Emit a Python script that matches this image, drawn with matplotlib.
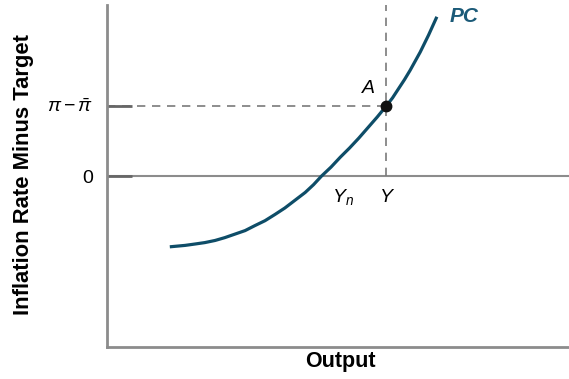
import numpy as np
import matplotlib
matplotlib.use("Agg")
import matplotlib.pyplot as plt

plt.rcParams['font.family'] = ['Liberation Sans', 'DejaVu Sans']
plt.rcParams['mathtext.fontset'] = 'custom'
plt.rcParams['mathtext.rm'] = 'Liberation Sans'
plt.rcParams['mathtext.it'] = 'Liberation Sans:italic'

# Phillips curve points
pc_x = [1.36, 1.69, 1.91, 2.12, 2.34, 2.55, 2.77, 2.99, 3.20, 3.42, 3.64,
        3.85, 4.07, 4.29, 4.47, 4.64, 4.85, 5.05, 5.25, 5.45, 5.65, 5.85,
        6.05, 6.18, 6.31, 6.44, 6.56, 6.67, 6.78, 6.87, 6.96, 7.05, 7.14]
pc_y = [-1.00, -0.98, -0.96, -0.94, -0.91, -0.87, -0.82, -0.77, -0.70, -0.63,
        -0.54, -0.45, -0.34, -0.23, -0.12, 0.00, 0.13, 0.27, 0.40, 0.54, 0.69,
        0.84, 1.00, 1.11, 1.24, 1.37, 1.50, 1.63, 1.76, 1.88, 2.00, 2.13, 2.26]
yn_x = 4.64
point_a = (6.05, 1.00)
ytick_vals = [0, 1]
ytick_labels = ['0', r'$\pi-\bar{\pi}$']

curve_col = '#0e4d68'
axis_col = '#8c8c8c'

fig = plt.figure(figsize=(5.69, 3.79), dpi=100)
ax = fig.add_axes([0.188, 0.0844, 0.812, 0.903])
ax.set_xlim(0, 10)
ax.set_ylim(-2.42, 2.43)

for s in ['top', 'right']:
    ax.spines[s].set_visible(False)
for s in ['left', 'bottom']:
    ax.spines[s].set_color(axis_col)
    ax.spines[s].set_linewidth(2)

# zero line and dashed guides
ax.axhline(0, color=axis_col, lw=1.5, zorder=1)
ax.plot([0, point_a[0]], [point_a[1], point_a[1]], color='#7a7a7a', lw=1.2,
        ls=(0, (5, 4)), zorder=1)
ax.plot([point_a[0], point_a[0]], [0, 2.43], color='#7a7a7a', lw=1.2,
        ls=(0, (5, 4)), zorder=1, clip_on=False)

ax.plot(pc_x, pc_y, color=curve_col, lw=2.3, solid_capstyle='butt',
        solid_joinstyle='round', zorder=3)
ax.plot(*point_a, 'o', color='#111111', ms=7.5, zorder=4)

ax.set_xticks([])
ax.set_yticks(ytick_vals)
ax.set_yticklabels(ytick_labels, fontsize=14)
ax.tick_params(axis='y', direction='in', length=18, width=2, color='#666666',
               pad=10)

ax.text(pc_x[-1] + 0.27, 2.26, 'PC', fontsize=15, fontweight='bold',
        fontstyle='italic', color='#1b5a78', va='center', ha='left')
ax.text(point_a[0] - 0.4, point_a[1] + 0.25, 'A', fontsize=14,
        fontstyle='italic', ha='center', va='center')
ax.text(yn_x + 0.47, -0.3, '$Y_n$', fontsize=14, ha='center', va='center')
ax.text(point_a[0], -0.3, 'Y', fontsize=14, fontstyle='italic',
        ha='center', va='center')

fig.text(0.041, 0.54, 'Inflation Rate Minus Target', rotation=90,
         fontsize=15.8, fontweight='bold', ha='center', va='center')
fig.text(0.599, 0.045, 'Output', fontsize=15.5, fontweight='bold',
         ha='center', va='center')

fig.savefig('out.png', dpi=100)
